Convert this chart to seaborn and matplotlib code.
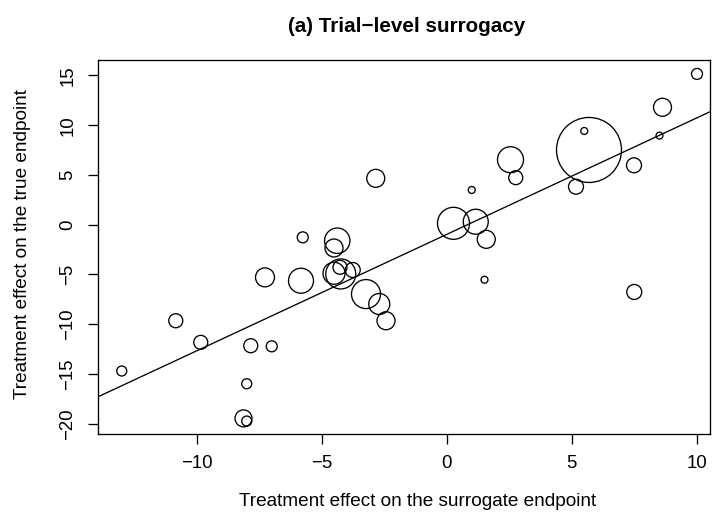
import numpy as np
import pandas as pd
import matplotlib
matplotlib.use("Agg")
import matplotlib.pyplot as plt
import seaborn as sns

# ---- data ----
surrogate_effect = [-13.00, -10.84, -9.84, -8.13, -8.00, -8.00, -7.84, -7.27, -7.00,
                    -5.83, -5.76, -4.38, -4.51, -4.27, -4.51, -4.24, -3.76, -3.23,
                    -2.70, -2.43, -2.84, 0.27, 1.16, 1.58, 1.00, 1.51, 2.55, 2.76,
                    5.17, 5.69, 5.50, 7.49, 7.50, 8.51, 8.63, 10.01]
true_effect = [-14.70, -9.65, -11.82, -19.46, -19.73, -15.98, -12.16, -5.29, -12.22,
               -5.63, -1.27, -1.61, -2.34, -4.28, -4.88, -4.95, -4.55, -6.97,
               -7.97, -9.65, 4.66, 0.14, 0.30, -1.47, 3.49, -5.53, 6.53, 4.73,
               3.82, 7.51, 9.42, 5.97, -6.76, 8.95, 11.80, 15.15]
trial_size = [25, 49, 49, 72, 25, 25, 49, 90, 30,
              156, 30, 161, 81, 49, 121, 225, 56, 210,
              110, 81, 81, 256, 156, 81, 12, 12, 169, 49,
              56, 1056, 12, 56, 56, 12, 81, 30]
fit_intercept = -0.97
fit_slope = 1.17

x_ticks = [-10, -5, 0, 5, 10]
y_ticks = [-20, -15, -10, -5, 0, 5, 10, 15]

title = "(a) Trial\u2212level surrogacy"
x_label = "Treatment effect on the surrogate endpoint"
y_label = "Treatment effect on the true endpoint"

df = pd.DataFrame({"surr": surrogate_effect, "true": true_effect, "n": trial_size})

# ---- plot ----
sns.set_theme(style="white")
plt.rcParams["font.family"] = ["Liberation Sans", "DejaVu Sans"]

W, H = 717, 523
FS_TICK = 13.4
FS_LAB = 13.7
fig = plt.figure(figsize=(W / 100, H / 100), dpi=100)
ax = fig.add_axes([98 / W, 1 - 434 / H, 612 / W, 374 / H])

max_n = max(trial_size)
sns.scatterplot(data=df, x="surr", y="true", size="n",
                sizes=(0, 2.0736 * max_n), size_norm=(0, max_n),
                facecolor="none", edgecolor="black", linewidth=0.95,
                legend=False, ax=ax)

ax.axline((0, fit_intercept), slope=fit_slope, color="black", linewidth=0.95)

ax.set_xlim(-13.95, 10.53)
ax.set_ylim(-21.03, 16.55)
ax.set_xticks(x_ticks)
ax.set_yticks(y_ticks)
ax.set_xticklabels([str(t).replace("-", "\u2212") for t in x_ticks])
ax.set_yticklabels([str(t).replace("-", "\u2212") for t in y_ticks])

for s in ax.spines.values():
    s.set_color("black")
    s.set_linewidth(0.95)

ax.tick_params(axis="both", which="major", direction="out", length=7.2, width=0.95,
               color="black", labelsize=FS_TICK, labelcolor="black",
               bottom=True, left=True)
ax.tick_params(axis="x", pad=8)
ax.tick_params(axis="y", pad=8.5)
for lab in ax.get_yticklabels():
    lab.set_rotation(90)
    lab.set_va("center")

ax.set_xlabel(x_label, fontsize=FS_LAB, color="black")
ax.set_ylabel(y_label, fontsize=FS_LAB, color="black")
ax.xaxis.set_label_coords((418 - 98) / 612, (434 - 502) / 374)
ax.xaxis.label.set_va("center")
ax.yaxis.set_label_coords((22.5 - 98) / 612, (434 - 244) / 374)
ax.yaxis.label.set_va("center")

fig.text(407 / W, 1 - 27 / H, title, ha="center", va="center",
         fontsize=14.9, fontweight="bold", color="black")

fig.savefig("out.png", dpi=100)
